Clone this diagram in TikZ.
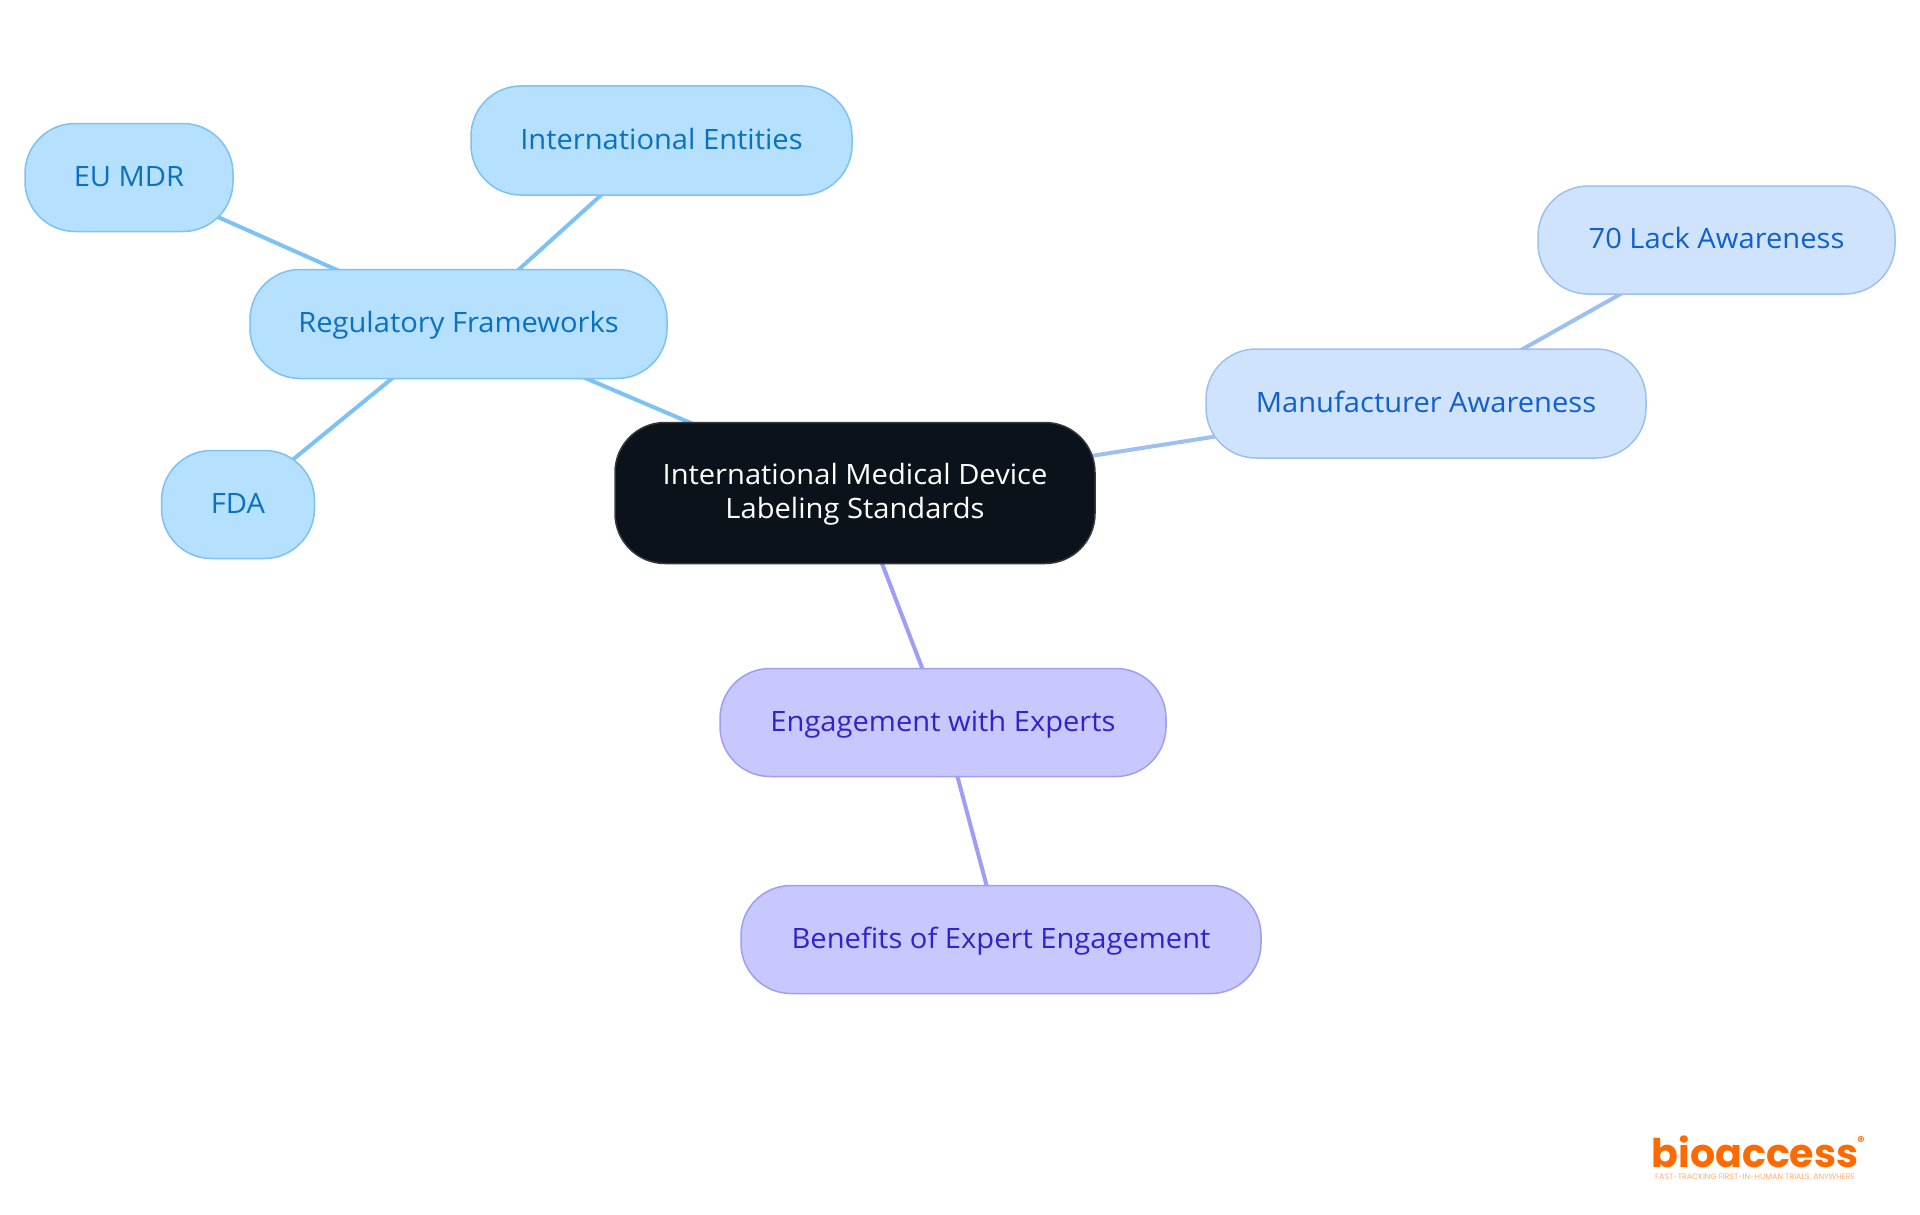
\documentclass[tikz,border=0pt]{standalone}
\usepackage{fontspec}
\setmainfont[FakeStretch=1.04]{Open Sans}
\newfontfamily\logofont{Poppins}
\usetikzlibrary{backgrounds}
\definecolor{blueF}{HTML}{B5E0FF}\definecolor{blueD}{HTML}{7DC1F5}\definecolor{blueT}{HTML}{0A70C0}
\definecolor{skyF}{HTML}{CFE3FC}\definecolor{skyD}{HTML}{9CC0F0}\definecolor{skyT}{HTML}{1060D0}
\definecolor{purF}{HTML}{C8C8FF}\definecolor{purD}{HTML}{9E9EF5}\definecolor{purT}{HTML}{3322CC}
\definecolor{rootF}{HTML}{0B121A}\definecolor{rootD}{HTML}{33383E}\definecolor{logoO}{HTML}{FF6A00}
\tikzset{x=1pt,y=-1pt,
 box/.style={rounded corners=50pt,line width=1.5pt,align=center,inner sep=0pt,font=\fontsize{28}{34}\selectfont},
 leafbox/.style={box,text height=21pt,text depth=4pt},
 bluebox/.style={leafbox,fill=blueF,draw=blueD,text=blueT},
 skybox/.style={leafbox,fill=skyF,draw=skyD,text=skyT},
 purbox/.style={leafbox,fill=purF,draw=purD,text=purT},
 rootbox/.style={box,fill=rootF,draw=rootD,text=white},
 blueline/.style={line width=4pt,draw=blueD},
 skyline/.style={line width=4pt,draw=skyD},
 purline/.style={line width=4pt,draw=purD}}
\begin{document}
\begin{tikzpicture}
\useasboundingbox (0,0) rectangle (1920,1215);
\node[rootbox,minimum width=480pt,minimum height=141pt] (root) at (855,493) {\rule{0pt}{24pt}International Medical Device\\Labeling Standards};
\node[bluebox,minimum width=417pt,minimum height=109pt] (reg) at (458.5,324) {Regulatory Frameworks};
\node[bluebox,minimum width=381pt,minimum height=109pt] (intl) at (661.5,140.5) {International Entities};
\node[bluebox,minimum width=208pt,minimum height=108pt] (eu) at (129,177.5) {EU MDR};
\node[bluebox,minimum width=153pt,minimum height=108pt] (fda) at (238,504.5) {FDA};
\node[skybox,minimum width=440pt,minimum height=109pt] (man) at (1426,403.5) {Manufacturer Awareness};
\node[skybox,minimum width=357pt,minimum height=108pt] (lack) at (1716.5,240) {70 Lack Awareness};
\node[purbox,minimum width=446pt,minimum height=108pt] (eng) at (943,722.5) {Engagement with Experts};
\node[purbox,minimum width=520pt,minimum height=108pt] (ben) at (1001,939.5) {Benefits of Expert Engagement};
\begin{pgfonlayer}{background}
\draw[blueline] (root.center) -- (reg.center);
\draw[blueline] (reg.center) -- (intl.center);
\draw[blueline] (reg.center) -- (eu.center);
\draw[blueline] (reg.center) -- (fda.center);
\draw[skyline] (root.center) -- (man.center);
\draw[skyline] (man.center) -- (lack.center);
\draw[purline] (root.center) -- (eng.center);
\draw[purline] (eng.center) -- (ben.center);
\end{pgfonlayer}
\node[inner sep=0pt,text=logoO,text height=30pt,text depth=0pt,font=\logofont\bfseries\fontsize{39.5}{40}\selectfont] (logo) at (1755,1152) {bioaccess};
\node[inner sep=0pt,text=logoO,font=\logofont\bfseries\fontsize{14}{14}\selectfont] (regmark) at (1861,1141) {®};
\node[inner sep=0pt,text=logoO!55,font=\logofont\fontsize{7.9}{8}\selectfont] (tag) at (1755,1177) {FAST-TRACKING FIRST-IN-HUMAN TRIALS, ANYWHERE};
\end{tikzpicture}
\end{document}
